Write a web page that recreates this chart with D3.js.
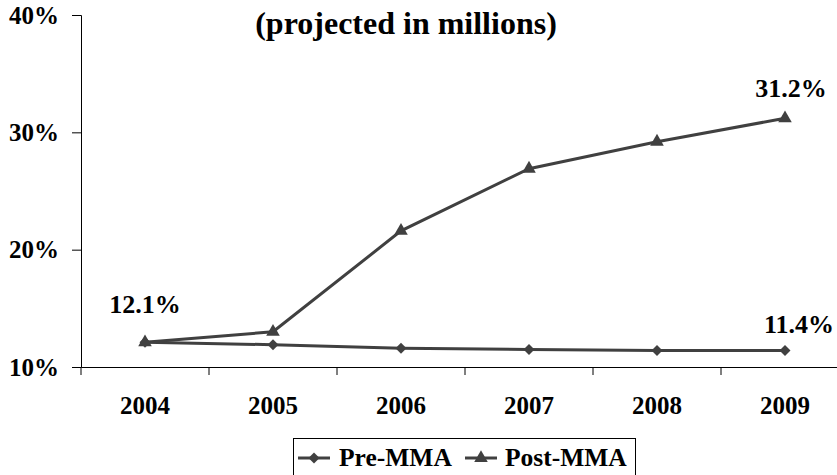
<!DOCTYPE html>
<html>
<head>
<meta charset="utf-8">
<script src="https://cdn.jsdelivr.net/npm/d3@7"></script>
<style>
  html, body { margin: 0; padding: 0; background: #fff; }
  svg { display: block; }
</style>
</head>
<body>
<svg id="chart" width="837" height="475"></svg>
<script>
const years = ["2004", "2005", "2006", "2007", "2008", "2009"];
const preMMA = [12.1, 11.9, 11.6, 11.5, 11.4, 11.4];
const postMMA = [12.1, 13.0, 21.6, 26.9, 29.2, 31.2];
const yTicks = [10, 20, 30, 40];
const seriesNames = ["Pre-MMA", "Post-MMA"];
const title = "(projected in millions)";
const dataLabels = [
  { series: "post", index: 0, text: "12.1%" },
  { series: "post", index: 5, text: "31.2%" },
  { series: "pre", index: 5, text: "11.4%" }
];

const FONT = "serif";
const svg = d3.select("#chart");
const lineColor = "#404040";

const x = d3.scaleBand().domain(years).range([81, 849]);
const y = d3.scaleLinear().domain([10, 40]).range([367, 15]);

function styleText(sel, size) {
  sel.attr("font-family", FONT).attr("font-weight", "bold").attr("font-size", size).attr("fill", "#000");
}

// Title
svg.append("text")
  .attr("x", 406).attr("y", 34)
  .attr("text-anchor", "middle")
  .call(styleText, 32)
  .text(title);

// Y axis
const yAxis = svg.append("g").attr("transform", "translate(81,0)")
  .call(d3.axisLeft(y).tickValues(yTicks).tickFormat(d => d + "%").tickSize(9).tickPadding(13));
yAxis.attr("font-family", FONT);
yAxis.selectAll("text").call(styleText, 25);
yAxis.select(".domain").attr("stroke", "#000");
yAxis.selectAll(".tick line").attr("stroke", "#000");

// X axis
const xAxis = svg.append("g").attr("transform", "translate(0,367)")
  .call(d3.axisBottom(x).tickSize(0).tickPadding(47));
xAxis.attr("font-family", FONT);
xAxis.select(".domain").attr("stroke", "#000");
xAxis.selectAll("text").call(styleText, 25).attr("dy", 0);
// boundary ticks between categories
const bounds = years.map(d => x(d)).concat([x(years[years.length - 1]) + x.bandwidth()]);
svg.append("g").selectAll("line").data(bounds).join("line")
  .attr("x1", d => d).attr("x2", d => d)
  .attr("y1", 367).attr("y2", 375)
  .attr("stroke", "#000");

const cx = d => x(d) + x.bandwidth() / 2;
const line = d3.line().x((d, i) => cx(years[i])).y(d => y(d));

// Lines
svg.append("path").datum(preMMA).attr("d", line)
  .attr("fill", "none").attr("stroke", lineColor).attr("stroke-width", 3);
svg.append("path").datum(postMMA).attr("d", line)
  .attr("fill", "none").attr("stroke", lineColor).attr("stroke-width", 3);

const diamond = d3.symbol().type(d3.symbolSquare).size(60);
const triangle = d3.symbol().type(d3.symbolTriangle).size(80);

svg.append("g").selectAll("path").data(preMMA).join("path")
  .attr("d", diamond)
  .attr("transform", (d, i) => `translate(${cx(years[i])},${y(d)}) rotate(45)`)
  .attr("fill", lineColor);
svg.append("g").selectAll("path").data(postMMA).join("path")
  .attr("d", triangle)
  .attr("transform", (d, i) => `translate(${cx(years[i])},${y(d)})`)
  .attr("fill", lineColor);

// Data labels
const labelOffsets = { "12.1%": [0, -29], "31.2%": [6, -21], "11.4%": [14, -18] };
svg.append("g").selectAll("text").data(dataLabels).join("text")
  .attr("x", d => cx(years[d.index]) + labelOffsets[d.text][0])
  .attr("y", d => y((d.series === "pre" ? preMMA : postMMA)[d.index]) + labelOffsets[d.text][1])
  .attr("text-anchor", "middle")
  .call(styleText, 26)
  .text(d => d.text);

// Legend
const lg = svg.append("g");
lg.append("rect").attr("x", 293.5).attr("y", 438.5).attr("width", 342).attr("height", 50)
  .attr("fill", "#fff").attr("stroke", "#000").attr("stroke-width", 1);
const legendItems = [
  { name: seriesNames[0], lx: 298, tx: 339, sym: "diamond" },
  { name: seriesNames[1], lx: 465, tx: 505, sym: "triangle" }
];
legendItems.forEach(it => {
  lg.append("line").attr("x1", it.lx).attr("x2", it.lx + 32).attr("y1", 458).attr("y2", 458)
    .attr("stroke", lineColor).attr("stroke-width", 3);
  lg.append("path")
    .attr("d", it.sym === "diamond" ? diamond() : triangle())
    .attr("transform", `translate(${it.lx + 16},458)` + (it.sym === "diamond" ? " rotate(45)" : ""))
    .attr("fill", lineColor);
  lg.append("text").attr("x", it.tx).attr("y", 466).call(styleText, 25.5).text(it.name);
});
</script>
</body>
</html>
